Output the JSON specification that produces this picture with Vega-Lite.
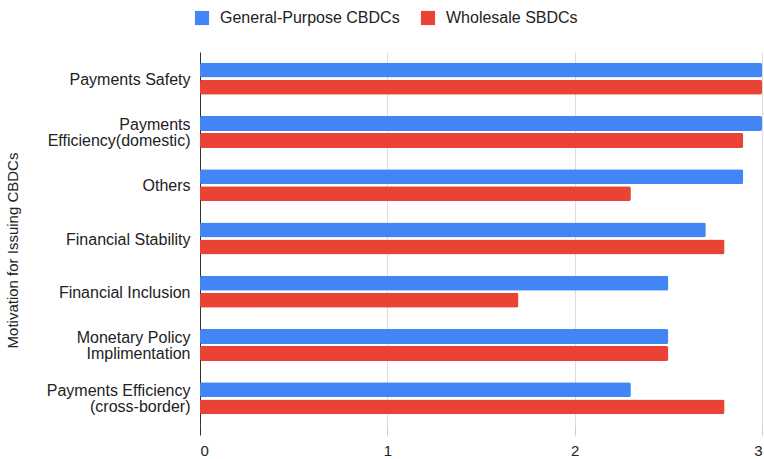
{
  "$schema": "https://vega.github.io/schema/vega-lite/v6.json",
  "width": 562,
  "height": 373,
  "autosize": {"type": "none"},
  "padding": {"left": 200, "top": 52, "right": 2, "bottom": 34},
  "background": "white",
  "config": {
    "font": "Liberation Sans",
    "view": {"stroke": null},
    "axis": {"labelFont": "Liberation Sans", "titleFont": "Liberation Sans"},
    "legend": {"labelFont": "Liberation Sans"}
  },
  "data": {
    "values": [
      {"motivation": "Payments Safety", "series": "General-Purpose CBDCs", "value": 3.0},
      {"motivation": "Payments Safety", "series": "Wholesale SBDCs", "value": 3.0},
      {"motivation": "Payments|Efficiency(domestic)", "series": "General-Purpose CBDCs", "value": 3.0},
      {"motivation": "Payments|Efficiency(domestic)", "series": "Wholesale SBDCs", "value": 2.9},
      {"motivation": "Others", "series": "General-Purpose CBDCs", "value": 2.9},
      {"motivation": "Others", "series": "Wholesale SBDCs", "value": 2.3},
      {"motivation": "Financial Stability", "series": "General-Purpose CBDCs", "value": 2.7},
      {"motivation": "Financial Stability", "series": "Wholesale SBDCs", "value": 2.8},
      {"motivation": "Financial Inclusion", "series": "General-Purpose CBDCs", "value": 2.5},
      {"motivation": "Financial Inclusion", "series": "Wholesale SBDCs", "value": 1.7},
      {"motivation": "Monetary Policy|Implimentation", "series": "General-Purpose CBDCs", "value": 2.5},
      {"motivation": "Monetary Policy|Implimentation", "series": "Wholesale SBDCs", "value": 2.5},
      {"motivation": "Payments Efficiency|(cross-border)", "series": "General-Purpose CBDCs", "value": 2.3},
      {"motivation": "Payments Efficiency|(cross-border)", "series": "Wholesale SBDCs", "value": 2.8}
    ]
  },
  "mark": {"type": "bar", "cornerRadius": 2},
  "encoding": {
    "y": {
      "field": "motivation",
      "type": "nominal",
      "sort": null,
      "scale": {"paddingInner": 0.4, "paddingOuter": 0.2},
      "axis": {
        "title": "Motivation for Issuing CBDCs",
        "titleFontSize": 15,
        "titleFontWeight": "normal",
        "titleColor": "#222222",
        "titleX": -180,
        "titleY": 198,
        "labelExpr": "split(datum.label, '|')",
        "labelFontSize": 16,
        "labelColor": "#222222",
        "labelLineHeight": 16,
        "labelPadding": 10,
        "labelLimit": 300,
        "labelOffset": {"condition": {"test": "indexof(datum.value, '|') >= 0", "value": -7}, "value": 1},
        "ticks": false,
        "domainColor": "#333333",
        "domainWidth": 1
      }
    },
    "yOffset": {
      "field": "series",
      "type": "nominal",
      "sort": ["General-Purpose CBDCs", "Wholesale SBDCs"],
      "scale": {"paddingInner": 0.12}
    },
    "x": {
      "field": "value",
      "type": "quantitative",
      "scale": {"domain": [0, 3], "nice": false},
      "axis": {
        "title": null,
        "values": [0, 1, 2, 3],
        "format": "d",
        "domain": false,
        "grid": true,
        "gridColor": "#dddddd",
        "tickColor": {"condition": {"test": "datum.value === 0", "value": "#333333"}, "value": "#cccccc"},
        "tickSize": 10,
        "labelFontSize": 15,
        "labelColor": "#222222",
        "labelPadding": 8
      }
    },
    "color": {
      "field": "series",
      "type": "nominal",
      "sort": ["General-Purpose CBDCs", "Wholesale SBDCs"],
      "scale": {"range": ["#4285F4", "#EA4335"]},
      "legend": {
        "title": null,
        "orient": "none",
        "direction": "horizontal",
        "legendX": -6,
        "legendY": -42,
        "symbolType": "square",
        "symbolSize": 200,
        "symbolStrokeWidth": 0,
        "labelFontSize": 16,
        "labelLimit": 400,
        "labelColor": "#222222",
        "columnPadding": 20,
        "labelOffset": 10
      }
    }
  }
}
